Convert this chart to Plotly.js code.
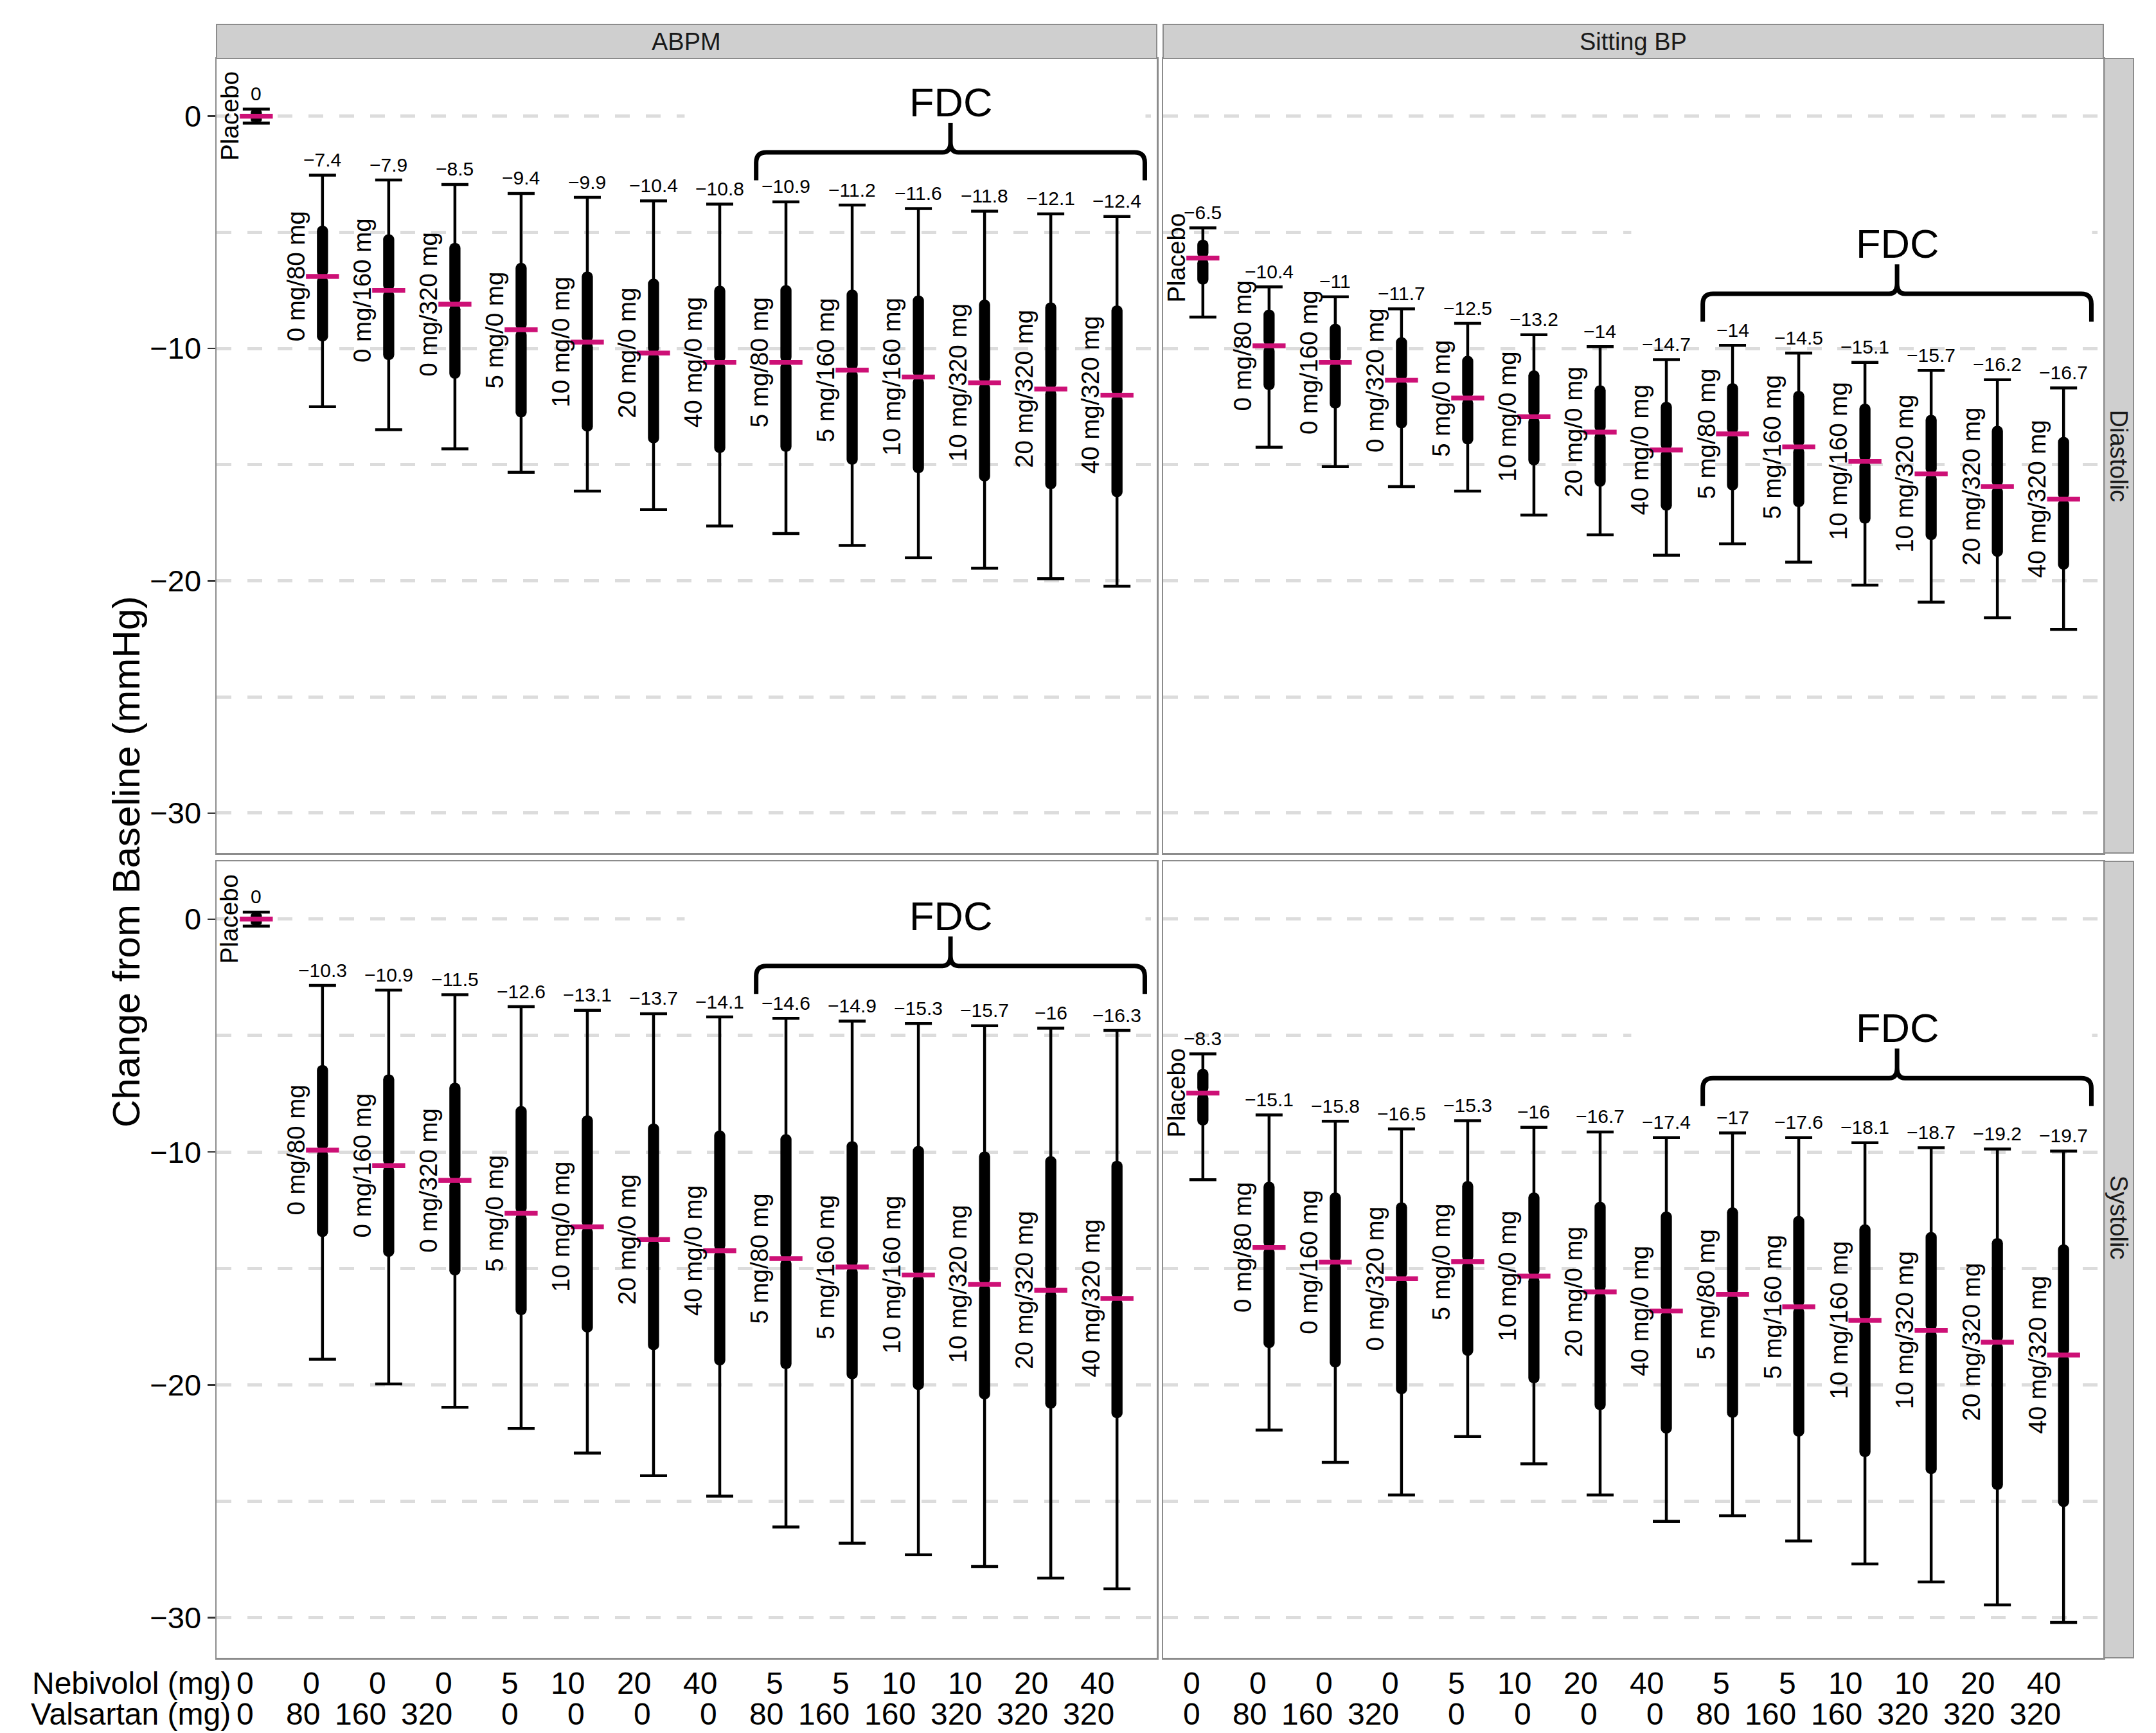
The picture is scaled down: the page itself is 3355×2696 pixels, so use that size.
<!DOCTYPE html>
<html><head><meta charset="utf-8">
<script src="https://cdn.plot.ly/plotly-3.0.1.min.js"></script>
<style>html,body{margin:0;padding:0;background:#fff}</style>
</head><body><div id="chart" style="width:3355px;height:2696px"></div>
<script>
// ---------- data ----------
const categories = ['Placebo','0 mg/80 mg','0 mg/160 mg','0 mg/320 mg','5 mg/0 mg','10 mg/0 mg','20 mg/0 mg','40 mg/0 mg',
  '5 mg/80 mg','5 mg/160 mg','10 mg/160 mg','10 mg/320 mg','20 mg/320 mg','40 mg/320 mg'];
const nebivolol = [0,0,0,0,5,10,20,40,5,5,10,10,20,40];
const valsartan = [0,80,160,320,0,0,0,0,80,160,160,320,320,320];

// ABPM - Diastolic
const abpmDiaLabel  = [0,-7.4,-7.9,-8.5,-9.4,-9.9,-10.4,-10.8,-10.9,-11.2,-11.6,-11.8,-12.1,-12.4];
const abpmDiaMedian = [0,-6.9,-7.5,-8.1,-9.2,-9.73,-10.2,-10.6,-10.6,-10.93,-11.23,-11.48,-11.75,-12.01];
const abpmDiaBoxHi  = [0.25,-4.72,-5.09,-5.46,-6.32,-6.69,-7.0,-7.3,-7.28,-7.47,-7.72,-7.9,-8.02,-8.15];
const abpmDiaBoxLo  = [-0.25,-9.7,-10.5,-11.3,-12.97,-13.58,-14.08,-14.5,-14.45,-15.0,-15.37,-15.72,-16.06,-16.4];
const abpmDiaWhiHi  = [0.3,-2.54,-2.75,-2.94,-3.33,-3.5,-3.65,-3.79,-3.69,-3.83,-3.98,-4.09,-4.21,-4.32];
const abpmDiaWhiLo  = [-0.3,-12.51,-13.5,-14.32,-15.33,-16.14,-16.94,-17.64,-17.97,-18.48,-19.01,-19.46,-19.91,-20.24];

// Sitting BP - Diastolic
const sitDiaLabel  = [-6.5,-10.4,-11,-11.7,-12.5,-13.2,-14,-14.7,-14,-14.5,-15.1,-15.7,-16.2,-16.7];
const sitDiaMedian = [-6.11,-9.89,-10.6,-11.37,-12.14,-12.94,-13.6,-14.37,-13.68,-14.24,-14.86,-15.4,-15.95,-16.49];
const sitDiaBoxHi  = [-5.32,-8.33,-8.94,-9.52,-10.32,-10.95,-11.59,-12.3,-11.5,-11.83,-12.38,-12.86,-13.33,-13.81];
const sitDiaBoxLo  = [-7.25,-11.79,-12.59,-13.44,-14.13,-15.03,-15.95,-16.98,-16.11,-16.83,-17.54,-18.25,-18.97,-19.52];
const sitDiaWhiHi  = [-4.81,-7.35,-7.78,-8.3,-8.92,-9.41,-9.92,-10.48,-9.87,-10.2,-10.6,-10.95,-11.35,-11.7];
const sitDiaWhiLo  = [-8.65,-14.25,-15.08,-15.95,-16.14,-17.17,-18.02,-18.9,-18.41,-19.2,-20.19,-20.92,-21.59,-22.1];

// ABPM - Systolic
const abpmSysLabel  = [0,-10.3,-10.9,-11.5,-12.6,-13.1,-13.7,-14.1,-14.6,-14.9,-15.3,-15.7,-16,-16.3];
const abpmSysMedian = [0,-9.92,-10.58,-11.22,-12.63,-13.21,-13.76,-14.24,-14.58,-14.94,-15.28,-15.68,-15.94,-16.29];
const abpmSysBoxHi  = [0.25,-6.27,-6.67,-7.03,-8.03,-8.43,-8.78,-9.08,-9.24,-9.54,-9.74,-9.98,-10.18,-10.38];
const abpmSysBoxLo  = [-0.25,-13.65,-14.5,-15.3,-17.0,-17.75,-18.51,-19.16,-19.32,-19.76,-20.22,-20.62,-21.02,-21.43];
const abpmSysWhiHi  = [0.3,-2.85,-3.05,-3.25,-3.76,-3.92,-4.06,-4.2,-4.26,-4.38,-4.48,-4.58,-4.68,-4.78];
const abpmSysWhiLo  = [-0.3,-18.9,-19.96,-20.96,-21.87,-22.93,-23.9,-24.78,-26.1,-26.8,-27.3,-27.8,-28.3,-28.76];

// Sitting BP - Systolic
const sitSysLabel  = [-8.3,-15.1,-15.8,-16.5,-15.3,-16,-16.7,-17.4,-17,-17.6,-18.1,-18.7,-19.2,-19.7];
const sitSysMedian = [-7.47,-14.1,-14.73,-15.44,-14.71,-15.33,-16.01,-16.83,-16.12,-16.65,-17.23,-17.66,-18.17,-18.72];
const sitSysBoxHi  = [-6.43,-11.28,-11.74,-12.16,-11.25,-11.74,-12.14,-12.56,-12.38,-12.75,-13.11,-13.44,-13.7,-13.97];
const sitSysBoxLo  = [-8.86,-18.42,-19.25,-20.4,-18.75,-19.93,-21.08,-22.09,-21.41,-22.22,-23.1,-23.83,-24.51,-25.24];
const sitSysWhiHi  = [-5.79,-8.41,-8.68,-9.01,-8.66,-8.94,-9.14,-9.38,-9.18,-9.38,-9.6,-9.82,-9.87,-9.96];
const sitSysWhiLo  = [-11.19,-21.94,-23.33,-24.73,-22.22,-23.39,-24.73,-25.86,-25.62,-26.7,-27.69,-28.46,-29.45,-30.2];

const columnNames = ['ABPM','Sitting BP'];
const rowNames = ['Diastolic','Systolic'];
const groupLabel = 'FDC';
const fdcFirst = 8, fdcLast = 13;

// ---------- styling / layout ----------
const FONT = 'Liberation Sans, Arial, Helvetica, sans-serif';
const MAGENTA = '#CD1076';
const GRID = '#dcdcdc';
const BORDER = '#8c8c8c';
const yRange = [-31.72, 2.48];
const xRange = [-0.6, 13.6];

const panels = [
  {n:'',  col:0, row:0, label:abpmDiaLabel, med:abpmDiaMedian, bhi:abpmDiaBoxHi, blo:abpmDiaBoxLo, whi:abpmDiaWhiHi, wlo:abpmDiaWhiLo, brace:-1.56},
  {n:'2', col:1, row:0, label:sitDiaLabel,  med:sitDiaMedian,  bhi:sitDiaBoxHi,  blo:sitDiaBoxLo,  whi:sitDiaWhiHi,  wlo:sitDiaWhiLo,  brace:-7.65},
  {n:'3', col:0, row:1, label:abpmSysLabel, med:abpmSysMedian, bhi:abpmSysBoxHi, blo:abpmSysBoxLo, whi:abpmSysWhiHi, wlo:abpmSysWhiLo, brace:-2.01},
  {n:'4', col:1, row:1, label:sitSysLabel,  med:sitSysMedian,  bhi:sitSysBoxHi,  blo:sitSysBoxLo,  whi:sitSysWhiHi,  wlo:sitSysWhiLo,  brace:-6.83}
];

const xDomains = [[0, 0.498297], [0.501703, 1]];
const yDomains = [[0.503215, 1], [0, 0.49799]];
const rowLabelY = [0.7516, 0.2753];

const fmt = v => (v < 0 ? '\u2212' : '') + Math.abs(v);
const idx = categories.map((c, i) => i);

const traces = [];
const annotations = [];
const shapes = [];
const layout = {
  width: 3355, height: 2696,
  margin: {l: 337, r: 82, t: 91, b: 117, pad: 0},
  paper_bgcolor: 'white', plot_bgcolor: 'white',
  showlegend: false, barmode: 'overlay',
  font: {family: FONT, color: 'black'},
  hovermode: false
};

function bracePath(x0, x1, L) {
  const xm = (x0 + x1) / 2;
  const rx = 0.155, ry = 0.44, tip = 1.2, sx = 0.12, sy = 0.45, top = 1.27;
  return `M${x0},${L - tip} V${L - ry} Q${x0},${L} ${x0 + rx},${L} H${xm - sx} ` +
         `Q${xm},${L} ${xm},${L + sy} V${L + top} V${L + sy} Q${xm},${L} ${xm + sx},${L} ` +
         `H${x1 - rx} Q${x1},${L} ${x1},${L - ry} V${L - tip}`;
}

panels.forEach(p => {
  const xa = 'x' + p.n, ya = 'y' + p.n;
  layout['xaxis' + p.n] = {
    domain: xDomains[p.col], anchor: ya, range: xRange, showgrid: false, zeroline: false,
    showticklabels: false, ticks: '', showline: true, mirror: true, linecolor: BORDER, linewidth: 2.5, fixedrange: true
  };
  layout['yaxis' + p.n] = {
    domain: yDomains[p.row], anchor: xa, range: yRange, tick0: 0, dtick: 10,
    showgrid: true, gridcolor: GRID, gridwidth: 5, griddash: '23px,24.7px', zeroline: false,
    minor: {dtick: 5, tick0: 0, showgrid: true, gridcolor: GRID, gridwidth: 5, griddash: '23px,24.7px', ticks: ''},
    showticklabels: p.col === 0, ticks: p.col === 0 ? 'outside' : '', ticklen: 12, tickwidth: 2.5, tickcolor: '#333333',
    tickfont: {size: 47, color: 'black', family: FONT},
    showline: true, mirror: true, linecolor: BORDER, linewidth: 2.5, fixedrange: true
  };

  // whiskers
  traces.push({
    type: 'scatter', mode: 'markers', xaxis: xa, yaxis: ya, x: idx, y: p.med,
    marker: {size: 1, color: 'rgba(0,0,0,0)'}, hoverinfo: 'skip',
    error_y: {type: 'data', symmetric: false,
      array: p.whi.map((v, i) => v - p.med[i]), arrayminus: p.wlo.map((v, i) => p.med[i] - v),
      color: 'black', thickness: 4.5, width: 21}
  });
  // thick inner bars (upper and lower halves, each rounded at its tip)
  traces.push({
    type: 'bar', xaxis: xa, yaxis: ya, x: idx, base: p.med, y: p.bhi.map((v, i) => v - p.med[i]),
    width: 0.168, marker: {color: 'black', line: {width: 0}, cornerradius: '50%'}, hoverinfo: 'skip'
  });
  traces.push({
    type: 'bar', xaxis: xa, yaxis: ya, x: idx, base: p.med, y: p.blo.map((v, i) => v - p.med[i]),
    width: 0.168, marker: {color: 'black', line: {width: 0}, cornerradius: '50%'}, hoverinfo: 'skip'
  });
  // median ticks
  traces.push({
    type: 'scatter', mode: 'markers', xaxis: xa, yaxis: ya, x: idx, y: p.med,
    marker: {symbol: 'line-ew', size: 36.7, color: MAGENTA, line: {color: MAGENTA, width: 7.5}}, hoverinfo: 'skip'
  });

  idx.forEach(i => {
    annotations.push({
      xref: xa, yref: ya, x: i, y: p.whi[i], text: fmt(p.label[i]), showarrow: false,
      xanchor: 'center', yanchor: 'bottom', yshift: 5.5, font: {size: 30, family: FONT, color: 'black'}
    });
    annotations.push({
      xref: xa, yref: ya, x: i, y: p.med[i], text: categories[i], showarrow: false, textangle: -90,
      xanchor: 'right', yanchor: 'middle', xshift: -18, font: {size: 38.5, family: FONT, color: 'black'}
    });
  });

  const L = p.brace;
  shapes.push({type: 'rect', xref: xa, yref: ya, x0: 6.47, x1: 13.43, y0: L + 0.5, y1: L + 3.0,
    fillcolor: 'white', line: {width: 0}, layer: 'above'});
  shapes.push({type: 'path', xref: xa, yref: ya, path: bracePath(fdcFirst - 0.45, fdcLast + 0.42, L),
    line: {color: 'black', width: 7}, fillcolor: 'rgba(0,0,0,0)', layer: 'above'});
  annotations.push({
    xref: xa, yref: ya, x: (fdcFirst - 0.45 + fdcLast + 0.42) / 2, y: L + 2.15, text: groupLabel, showarrow: false,
    xanchor: 'center', yanchor: 'middle', font: {size: 63, family: FONT, color: 'black'}
  });
});

// strips
const stripTop = (2579 - 38) / 2488;
const stripRight = (3320 - 337) / 2936;
columnNames.forEach((name, c) => {
  shapes.push({type: 'rect', xref: 'paper', yref: 'paper', x0: xDomains[c][0], x1: xDomains[c][1], y0: 1, y1: stripTop,
    fillcolor: '#cfcfcf', line: {color: BORDER, width: 2}, layer: 'above'});
  annotations.push({xref: 'paper', yref: 'paper', x: (xDomains[c][0] + xDomains[c][1]) / 2, y: (1 + stripTop) / 2,
    text: name, showarrow: false, xanchor: 'center', yanchor: 'middle', font: {size: 38, family: FONT, color: '#1a1a1a'}});
});
rowNames.forEach((name, r) => {
  shapes.push({type: 'rect', xref: 'paper', yref: 'paper', x0: 1.0005, x1: stripRight, y0: yDomains[r][0], y1: yDomains[r][1],
    fillcolor: '#cfcfcf', line: {color: BORDER, width: 2}, layer: 'above'});
  annotations.push({xref: 'paper', yref: 'paper', x: (1 + stripRight) / 2, y: rowLabelY[r],
    text: name, showarrow: false, textangle: 90, xanchor: 'center', yanchor: 'middle', font: {size: 38, family: FONT, color: '#1a1a1a'}});
});

// y-axis title
annotations.push({xref: 'paper', yref: 'paper', x: -0.04768, y: 0.4976, text: 'Change from Baseline (mmHg)',
  showarrow: false, textangle: -90, xanchor: 'center', yanchor: 'middle', font: {size: 60, family: FONT, color: 'black'}});

// dose table under the panels
const row1Y = (2579 - 2618.4) / 2488, row2Y = (2579 - 2666.4) / 2488;
annotations.push({xref: 'paper', yref: 'paper', x: (361 - 337) / 2936, y: row1Y, text: 'Nebivolol (mg)', showarrow: false,
  xanchor: 'right', yanchor: 'middle', font: {size: 48, family: FONT, color: 'black'}});
annotations.push({xref: 'paper', yref: 'paper', x: (361 - 337) / 2936, y: row2Y, text: 'Valsartan (mg)', showarrow: false,
  xanchor: 'right', yanchor: 'middle', font: {size: 48, family: FONT, color: 'black'}});
['x3', 'x4'].forEach(xa => {
  idx.forEach(i => {
    annotations.push({xref: xa, yref: 'paper', x: i, y: row1Y, text: String(nebivolol[i]), showarrow: false,
      xanchor: 'right', yanchor: 'middle', xshift: -2, font: {size: 48, family: FONT, color: 'black'}});
    annotations.push({xref: xa, yref: 'paper', x: i, y: row2Y, text: String(valsartan[i]), showarrow: false,
      xanchor: 'right', yanchor: 'middle', xshift: -2, font: {size: 48, family: FONT, color: 'black'}});
  });
});

layout.annotations = annotations;
layout.shapes = shapes;

Plotly.newPlot('chart', traces, layout, {staticPlot: true, displayModeBar: false});
</script></body></html>
